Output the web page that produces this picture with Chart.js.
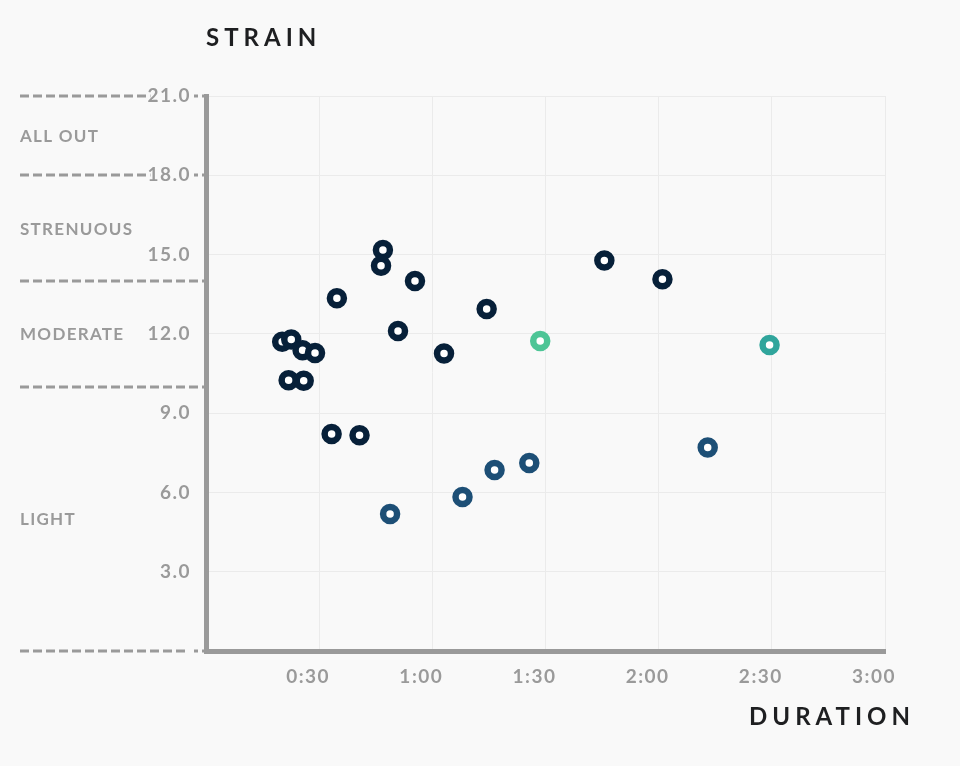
<!DOCTYPE html>
<html>
<head>
<meta charset="utf-8">
<script src="https://cdn.jsdelivr.net/npm/chart.js@4.4.0/dist/chart.umd.min.js"></script>
<style>
  html, body { margin: 0; background: #f9f9f9; }
  #wrap { width: 960px; height: 766px; }
</style>
</head>
<body>
<div id="wrap"><canvas id="myChart"></canvas></div>
<script>
// duration in minutes, strain score
var darkMinutes = [20.2, 22.6, 25.6, 28.9, 21.9, 25.9, 34.7, 46.9, 46.4, 55.4, 50.9, 63.1, 74.4, 33.3, 40.7, 105.6, 121.0];
var darkStrain  = [11.70, 11.79, 11.38, 11.28, 10.24, 10.23, 13.35, 15.17, 14.58, 14.00, 12.11, 11.26, 12.94, 8.21, 8.16, 14.78, 14.07];
var blueMinutes = [48.8, 68.0, 76.5, 85.7, 133.0];
var blueStrain  = [5.18, 5.83, 6.85, 7.11, 7.70];
var greenMinutes = [88.6];
var greenStrain  = [11.73];
var tealMinutes = [149.4];
var tealStrain  = [11.58];

var zoneEdges = [0, 10, 14, 18, 21];
var zoneNames = ['LIGHT', 'MODERATE', 'STRENUOUS', 'ALL OUT'];

function toPoints(xs, ys) {
  return xs.map(function (x, i) { return { x: x, y: ys[i] }; });
}

function ringSet(xs, ys, color) {
  return {
    data: toPoints(xs, ys),
    borderColor: color,
    backgroundColor: '#ffffff',
    pointRadius: 7,
    pointBorderWidth: 6.5,
    pointHoverRadius: 7,
    pointHoverBorderWidth: 6.5,
  };
}

function fmtDuration(m) {
  var h = Math.floor(m / 60);
  var mm = m % 60;
  return h + ':' + (mm < 10 ? '0' : '') + mm;
}

// dashed strain-zone lines and zone names on the left
var zonePlugin = {
  id: 'zones',
  beforeDraw: function (chart) {
    var ctx = chart.ctx;
    var y = chart.scales.y;
    var left = chart.chartArea.left;
    ctx.save();
    ctx.strokeStyle = '#9a9a9a';
    ctx.lineWidth = 3;
    ctx.setLineDash([9, 4]);
    zoneEdges.forEach(function (v) {
      var py = Math.round(y.getPixelForValue(v));
      ctx.beginPath();
      ctx.moveTo(20, py);
      ctx.lineTo(left, py);
      ctx.stroke();
    });
    ctx.setLineDash([]);
    ctx.fillStyle = '#9a9a9a';
    ctx.font = 'bold 17px Lato';
    ctx.letterSpacing = '1.3px';
    ctx.textBaseline = 'middle';
    zoneNames.forEach(function (name, i) {
      var mid = (zoneEdges[i] + zoneEdges[i + 1]) / 2;
      ctx.fillText(name, 20, y.getPixelForValue(mid) + 1);
    });
    ctx.restore();
    // wider tracking for the axis tick labels drawn next
    ctx.letterSpacing = '1.5px';
  },
  beforeDatasetsDraw: function (chart) {
    chart.ctx.letterSpacing = '0px';
  },
  afterDraw: function (chart) {
    var ctx = chart.ctx;
    ctx.save();
    ctx.fillStyle = '#1e1f21';
    ctx.font = 'bold 24px Lato';
    ctx.letterSpacing = '5px';
    ctx.textBaseline = 'middle';
    ctx.textAlign = 'left';
    ctx.fillText('STRAIN', 206, 38);
    ctx.textAlign = 'right';
    ctx.fillText('DURATION', 915, 717);
    ctx.restore();
  }
};

var ctx = document.getElementById('myChart').getContext('2d');
var myChart = new Chart(ctx, {
  type: 'scatter',
  data: {
    datasets: [
      ringSet(darkMinutes, darkStrain, '#072039'),
      ringSet(blueMinutes, blueStrain, '#1d4f76'),
      ringSet(greenMinutes, greenStrain, '#4dc596'),
      ringSet(tealMinutes, tealStrain, '#30a59c'),
    ],
  },
  options: {
    responsive: true,
    maintainAspectRatio: false,
    animation: false,
    layout: {
      padding: { top: 96, right: 75, bottom: 0, left: 0 },
    },
    plugins: {
      tooltip: { enabled: false },
      legend: { display: false },
    },
    scales: {
      x: {
        type: 'linear',
        min: 0,
        max: 180,
        afterFit: function (s) { s.height = 115; },
        ticks: {
          stepSize: 30,
          color: '#9a9a9a',
          padding: 14,
          labelOffset: -11,
          font: { family: 'Lato', size: 19, weight: 'bold' },
          callback: function (v) { return v === 0 ? '' : fmtDuration(v); },
        },
        grid: { color: '#ebebeb', lineWidth: 1, drawTicks: false },
        border: { color: '#9a9a9a', width: 5 },
      },
      y: {
        min: 0,
        max: 21,
        afterFit: function (s) { s.width = 206; },
        ticks: {
          stepSize: 3,
          color: '#9a9a9a',
          padding: 15,
          font: { family: 'Lato', size: 19, weight: 'bold' },
          showLabelBackdrop: true,
          backdropColor: '#f9f9f9',
          backdropPadding: 3,
          callback: function (v) { return v === 0 ? '' : v.toFixed(1); },
        },
        grid: { color: '#ebebeb', lineWidth: 1, drawTicks: false },
        border: { color: '#9a9a9a', width: 5 },
      },
    },
  },
  plugins: [zonePlugin],
});
</script>
</body>
</html>
